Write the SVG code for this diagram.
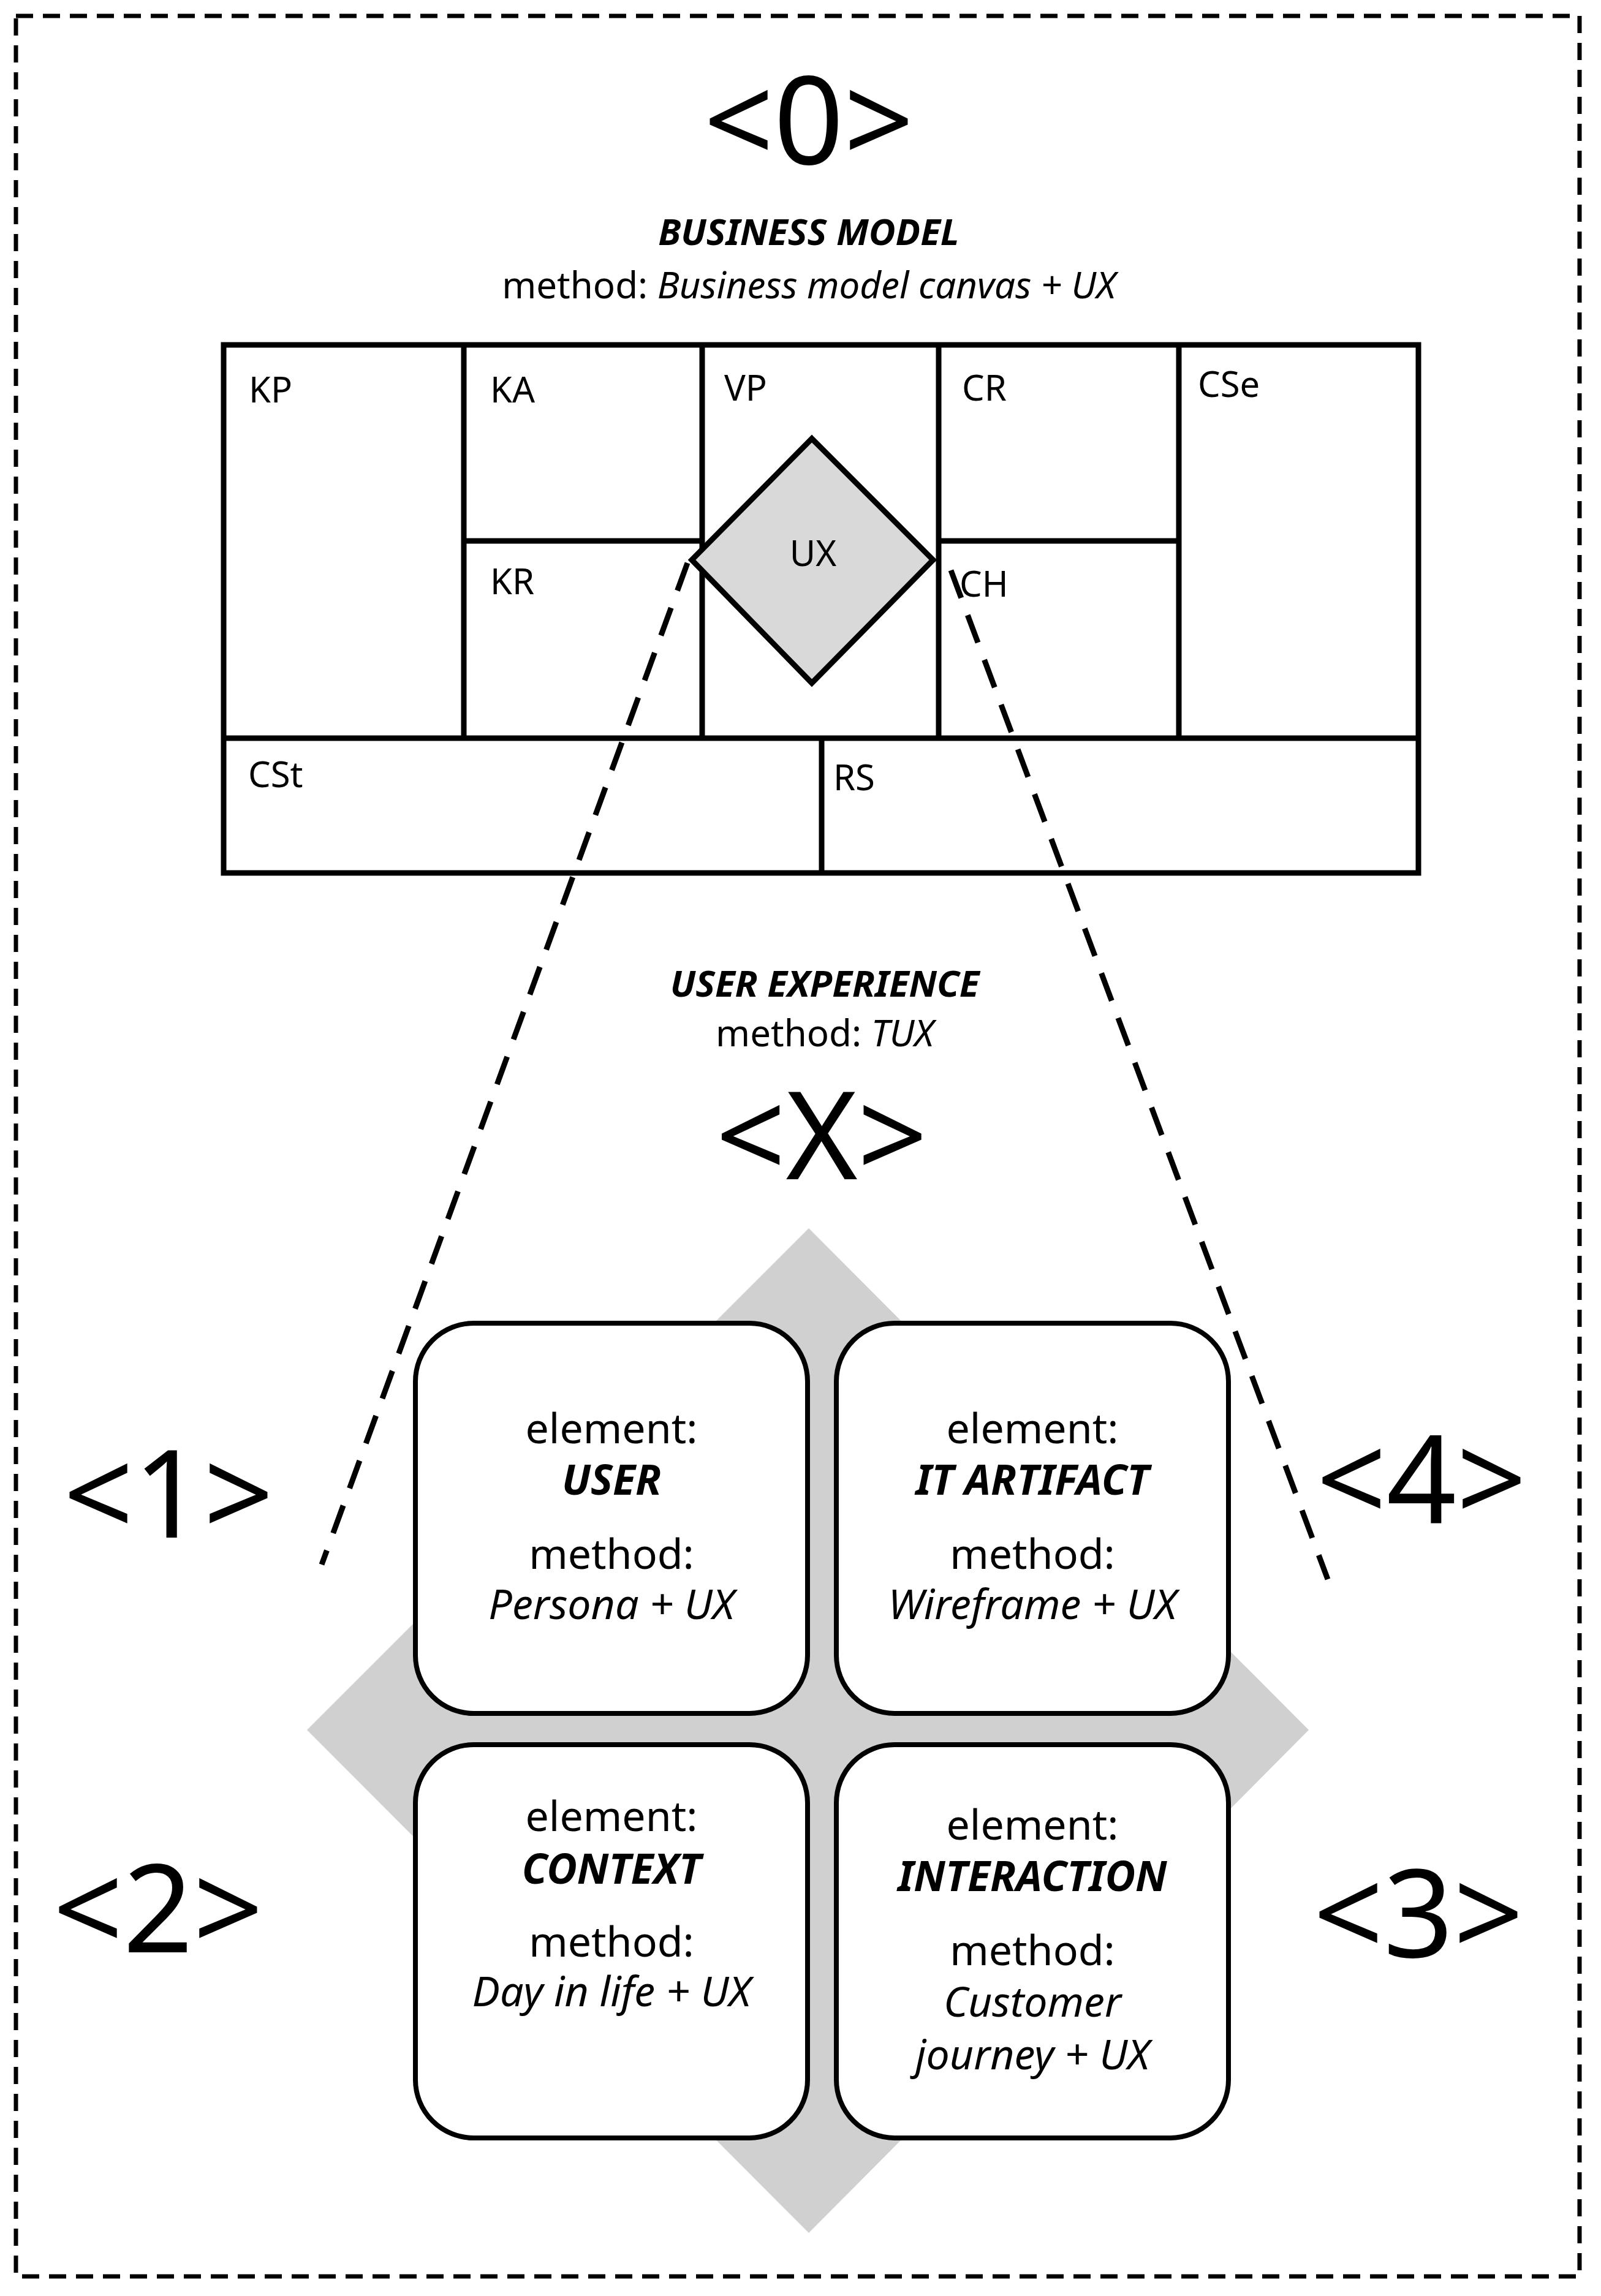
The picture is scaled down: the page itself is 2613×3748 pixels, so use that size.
<svg xmlns="http://www.w3.org/2000/svg" width="2613" height="3748" viewBox="0 0 2613 3748">
<style>
text{font-family:"Noto Sans","Open Sans",sans-serif;fill:#000}
.big{font-size:200px;text-anchor:middle}
.lab{font-size:58px}
.t{font-size:68px;text-anchor:middle}
.h{font-size:60px}
.b{font-weight:bold;font-style:italic}
.i{font-style:italic}
.ln{stroke:#000;stroke-width:9;fill:none}
.box{fill:#fff;stroke:#000;stroke-width:8}
.dash{stroke:#000;stroke-width:9;stroke-dasharray:48,30;fill:none}
</style>
<rect width="2613" height="3748" fill="#fff"/>
<rect x="26" y="26" width="2552" height="3690" fill="none" stroke="#000" stroke-width="7" style="stroke-dasharray:28,16"/>
<g id="title">
<text class="big" x="1320" y="268">&lt;0&gt;</text>
<text class="t b h" x="1320" y="400">BUSINESS MODEL</text>
<text class="t h" x="1320" y="487">method: <tspan class="i">Business model canvas + UX</tspan></text>
</g>
<g id="canvas">
<rect x="365" y="563" width="1950" height="862" class="ln"/>
<path class="ln" d="M757 563V1205M1146 563V1205M1532 563V1205M1924 563V1205M365 1205H2315M1341 1205V1425M757 883H1146M1532 883H1924"/>
<text class="lab" x="406" y="657">KP</text>
<text class="lab" x="800" y="657">KA</text>
<text class="lab" x="1182" y="654">VP</text>
<text class="lab" x="1570" y="654">CR</text>
<text class="lab" x="1955" y="648">CSe</text>
<text class="lab" x="800" y="970">KR</text>
<text class="lab" x="1566" y="974">CH</text>
<text class="lab" x="405" y="1285">CSt</text>
<text class="lab" x="1360" y="1290">RS</text>
</g>
<g id="ux">
<polygon points="1325,716 1523,914 1325,1115 1129,914" fill="#d9d9d9" stroke="#000" stroke-width="9"/>
<text class="lab" x="1327" y="924" text-anchor="middle">UX</text>
</g>
<g id="connectors">
<line class="dash" x1="1122" y1="919" x2="525" y2="2554"/>
<line class="dash" x1="1552" y1="931" x2="2167" y2="2578"/>
</g>
<g id="ue">
<text class="t b h" x="1346" y="1627">USER EXPERIENCE</text>
<text class="t h" x="1346" y="1708">method: <tspan class="i">TUX</tspan></text>
<text class="big" x="1341" y="1925">&lt;X&gt;</text>
</g>
<polygon id="bg" points="1320,2005 2136,2824 1320,3645 501,2824" fill="#d0d0d0"/>
<g id="user"><rect class="box" x="678" y="2160" width="640" height="637" rx="95"/>
<text class="t" x="998" y="2356">element:</text><text class="t b" x="998" y="2440">USER</text>
<text class="t" x="998" y="2561">method:</text><text class="t i" x="998" y="2643">Persona + UX</text></g>
<g id="it"><rect class="box" x="1365" y="2160" width="640" height="637" rx="95"/>
<text class="t" x="1685" y="2356">element:</text><text class="t b" x="1685" y="2440">IT ARTIFACT</text>
<text class="t" x="1685" y="2561">method:</text><text class="t i" x="1685" y="2643">Wireframe + UX</text></g>
<g id="context"><rect class="box" x="678" y="2848" width="640" height="642" rx="95"/>
<text class="t" x="998" y="2989">element:</text><text class="t b" x="998" y="3075">CONTEXT</text>
<text class="t" x="998" y="3194">method:</text><text class="t i" x="998" y="3275">Day in life + UX</text></g>
<g id="interaction"><rect class="box" x="1365" y="2848" width="640" height="642" rx="95"/>
<text class="t" x="1685" y="3003">element:</text><text class="t b" x="1685" y="3087">INTERACTION</text>
<text class="t" x="1685" y="3208">method:</text><text class="t i" x="1685" y="3292">Customer</text><text class="t i" x="1685" y="3378">journey + UX</text></g>
<g id="nums">
<text class="big" x="275" y="2510">&lt;1&gt;</text>
<text class="big" x="2320" y="2486">&lt;4&gt;</text>
<text class="big" x="258" y="3187">&lt;2&gt;</text>
<text class="big" x="2315" y="3195">&lt;3&gt;</text>
</g>
</svg>
